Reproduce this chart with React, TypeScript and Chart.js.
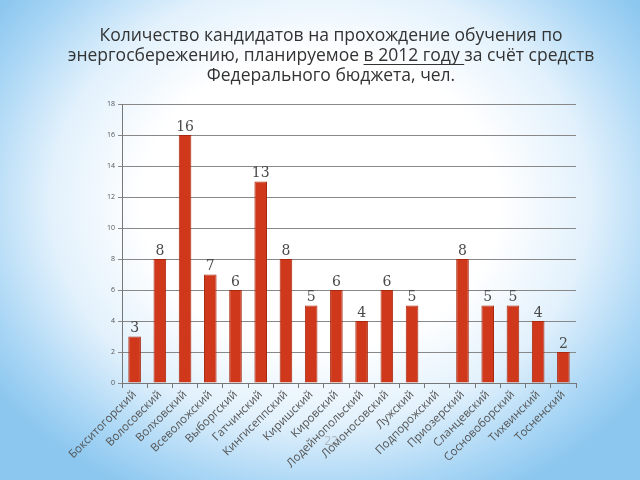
import React, { useEffect, useRef } from "react";
import { Chart, registerables } from "chart.js";

Chart.register(...registerables);

const titleLines = [
  "Количество кандидатов на прохождение обучения по",
  "энергосбережению, планируемое в 2012 году за счёт средств",
  "Федерального бюджета, чел.",
];
const underlinePrefix = "энергосбережению, планируемое ";
const underlinePart = "в 2012 году ";

const categories = [
  "Бокситогорский",
  "Волосовский",
  "Волховский",
  "Всеволожский",
  "Выборгский",
  "Гатчинский",
  "Кингисеппский",
  "Киришский",
  "Кировский",
  "Лодейнопольский",
  "Ломоносовский",
  "Лужский",
  "Подпорожский",
  "Приозерский",
  "Сланцевский",
  "Сосновоборский",
  "Тихвинский",
  "Тосненский",
];
const values: (number | null)[] = [3, 8, 16, 7, 6, 13, 8, 5, 6, 4, 6, 5, null, 8, 5, 5, 4, 2];

const yMin = 0;
const yMax = 18;
const yStep = 2;
const slideNumber = "22";

const TITLE_FONT = "'Open Sans', 'Noto Sans', sans-serif";
const TITLE_SIZE = 17.5;
const LABEL_FONT = "'Open Sans', 'Noto Sans', sans-serif";

const valueLabelPlugin = {
  id: "valueLabels",
  afterDatasetsDraw(chart: any) {
    const ctx = chart.ctx;
    const meta = chart.getDatasetMeta(0);
    ctx.save();
    ctx.font = "14px 'DejaVu Serif', 'Liberation Serif', serif";
    ctx.fillStyle = "#4a4a4a";
    ctx.textAlign = "center";
    ctx.textBaseline = "bottom";
    meta.data.forEach((el: any, i: number) => {
      const v = values[i];
      if (v === null || v === undefined) return;
      ctx.fillText(String(v), el.x, el.y - 1);
    });
    ctx.restore();
  },
};

const titleUnderlinePlugin = {
  id: "titleUnderline",
  afterDraw(chart: any) {
    const tb = chart.titleBlock;
    if (!tb) return;
    const ctx = chart.ctx;
    const size = TITLE_SIZE;
    const lh = 20;
    const padTop = 26;
    ctx.save();
    ctx.font = `${size}px ${TITLE_FONT}`;
    const cx = (tb.left + tb.right) / 2;
    const line = titleLines[1];
    const fullW = ctx.measureText(line).width;
    const x0 = cx - fullW / 2 + ctx.measureText(underlinePrefix).width;
    const w = ctx.measureText(underlinePart).width;
    const y = tb.top + padTop + lh * 1.5 + size * 0.45;
    ctx.strokeStyle = "#333";
    ctx.lineWidth = 1;
    ctx.beginPath();
    ctx.moveTo(x0, Math.round(y) + 0.5);
    ctx.lineTo(x0 + w, Math.round(y) + 0.5);
    ctx.stroke();
    // faint slide number
    ctx.font = "12px 'Open Sans', sans-serif";
    ctx.fillStyle = "rgba(140,140,140,0.55)";
    ctx.textAlign = "center";
    ctx.textBaseline = "middle";
    ctx.fillText(slideNumber, 331, 442);
    ctx.restore();
  },
};

export default function App() {
  const ref = useRef<HTMLCanvasElement | null>(null);
  useEffect(() => {
    if (!ref.current) return;
    const chart = new Chart(ref.current, {
      type: "bar",
      data: {
        labels: categories,
        datasets: [
          {
            data: values as any,
            backgroundColor: "#d0381c",
            borderColor: "#a8280f",
            borderWidth: 1,
            barPercentage: 0.5,
            categoryPercentage: 1,
          },
        ],
      },
      options: {
        responsive: false,
        animation: false,
        devicePixelRatio: 1,
        layout: { padding: { left: 22, right: 0, top: 0, bottom: 0 } },
        plugins: {
          legend: { display: false },
          tooltip: { enabled: false },
          title: {
            display: true,
            text: titleLines,
            color: "#333",
            font: { family: TITLE_FONT, size: TITLE_SIZE, weight: "normal", lineHeight: 20 / TITLE_SIZE },
            padding: { top: 26, bottom: 18 },
          },
        },
        scales: {
          x: {
            grid: {
              display: true,
              drawOnChartArea: false,
              drawTicks: true,
              tickLength: 5,
              color: "#777",
              offset: true,
            },
            border: { display: true, color: "#777" },
            ticks: {
              minRotation: 45,
              maxRotation: 45,
              autoSkip: false,
              color: "#555",
              padding: 0,
              font: { family: LABEL_FONT, size: 11.5 },
            },
            afterFit: (s: any) => {
              s.height = 97;
            },
          },
          y: {
            min: yMin,
            max: yMax,
            ticks: {
              stepSize: yStep,
              color: "#555",
              padding: 3,
              font: { family: LABEL_FONT, size: 7 },
            },
            grid: { color: "#888", tickLength: 4 },
            border: { display: true, color: "#777" },
            afterFit: (s: any) => {
              s.width = 100;
            },
          },
          y2: {
            position: "right",
            display: true,
            min: yMin,
            max: yMax,
            grid: { display: false, drawTicks: false },
            border: { display: false },
            ticks: { display: false },
            afterFit: (s: any) => {
              s.width = 64;
            },
          },
        },
      } as any,
      plugins: [valueLabelPlugin, titleUnderlinePlugin],
    });
    return () => chart.destroy();
  }, []);

  return (
    <div
      style={{
        position: "absolute",
        left: 0,
        top: 0,
        width: 640,
        height: 480,
        overflow: "hidden",
        background:
          "radial-gradient(ellipse 62% 68% at 50% 42%, #ffffff 45%, #e2f1fc 68%, #a9d6f5 88%, #8cc7ef 100%)",
      }}
    >
      <canvas ref={ref} width={640} height={480} style={{ display: "block" }} />
    </div>
  );
}
